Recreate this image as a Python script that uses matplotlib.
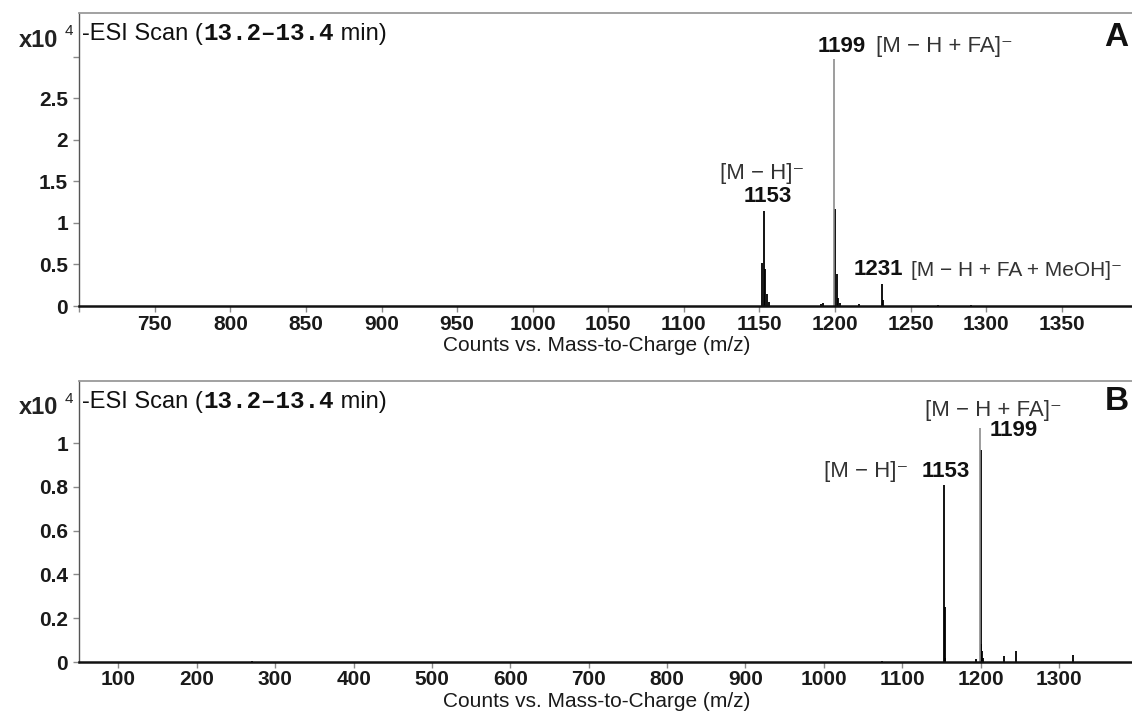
import matplotlib
matplotlib.use("Agg")
import matplotlib.pyplot as plt

plt.rcParams['font.family'] = ['Liberation Sans', 'DejaVu Sans']

# ---- Panel A: narrow scan window, intensities in units of 1e4 counts ----
mz_a = [1152, 1153, 1154, 1155, 1156, 1191, 1192, 1200, 1201, 1202, 1203,
        1216, 1231, 1232, 1268, 1290]
counts_a = [0.52, 1.14, 0.45, 0.15, 0.05, 0.03, 0.035, 1.17, 0.38, 0.10, 0.04,
            0.025, 0.27, 0.07, 0.01, 0.008]
base_mz_a = [1199]
base_counts_a = [2.97]
xticks_a = [700, 750, 800, 850, 900, 950, 1000, 1050, 1100, 1150, 1200, 1250, 1300, 1350]
xlabels_a = ['', '750', '800', '850', '900', '950', '1000', '1050', '1100', '1150',
             '1200', '1250', '1300', '1350']
yticks_a = [0, 0.5, 1, 1.5, 2, 2.5, 3]
ylabels_a = ['0', '0.5', '1', '1.5', '2', '2.5', '']

# ---- Panel B: full scan window ----
mz_b = [270, 1074, 1153, 1154, 1155, 1194, 1200, 1201, 1202, 1203, 1230, 1245, 1318]
counts_b = [0.005, 0.006, 0.807, 0.25, 0.02, 0.012, 0.97, 0.08, 0.05, 0.02, 0.026,
            0.048, 0.033]
base_mz_b = [1199]
base_counts_b = [1.07]
xticks_b = [100, 200, 300, 400, 500, 600, 700, 800, 900, 1000, 1100, 1200, 1300]
xlabels_b = [str(v) for v in xticks_b]
yticks_b = [0, 0.2, 0.4, 0.6, 0.8, 1]
ylabels_b = ['0', '0.2', '0.4', '0.6', '0.8', '1']

W, H = 1132, 714
fig = plt.figure(figsize=(W / 100, H / 100), dpi=100)

ax_w = 1058
axA = fig.add_axes([79.3 / W, 1 - 306 / H, ax_w / W, 292.7 / H])
axB = fig.add_axes([79.3 / W, 1 - 662 / H, ax_w / W, 281.3 / H])


def style_axes(ax, xlim, ylim, xt, xl, yt, yl, label_y, xpad):
    ax.set_xlim(*xlim)
    ax.set_ylim(*ylim)
    ax.set_xticks(xt)
    ax.set_xticklabels(xl)
    ax.set_yticks(yt)
    ax.set_yticklabels(yl)
    ax.spines['right'].set_visible(False)
    ax.spines['top'].set_color('#9a9a9a')
    ax.spines['top'].set_linewidth(1.3)
    ax.spines['left'].set_color('#555555')
    ax.spines['left'].set_linewidth(1.0)
    ax.spines['bottom'].set_color('#111111')
    ax.spines['bottom'].set_linewidth(1.8)
    ax.tick_params(axis='both', direction='out', length=4, width=1,
                   color='#8a8a8a', labelsize=15)
    ax.tick_params(axis='x', pad=xpad)
    ax.tick_params(axis='y', pad=4)
    for lbl in ax.get_xticklabels() + ax.get_yticklabels():
        lbl.set_fontweight('bold')
        lbl.set_color('#1a1a1a')
    ax.set_xlabel('Counts vs. Mass-to-Charge (m/z)', fontsize=15, color='#1a1a1a')
    ax.xaxis.label.set_va('center')
    ax.xaxis.set_label_coords(0.489, label_y)
    # exponent marker
    ax.annotate('x10', xy=(0, 1), xycoords='axes fraction', xytext=(-21, -27),
                textcoords='offset pixels', ha='right', va='center',
                fontsize=17, fontweight='bold', color='#222222')
    ax.annotate('4', xy=(0, 1), xycoords='axes fraction', xytext=(-15, -18),
                textcoords='offset pixels', ha='left', va='center',
                fontsize=11, color='#222222')
    # scan description
    t1 = ax.annotate('-ESI Scan (', xy=(0, 1), xycoords='axes fraction',
                     xytext=(3, -21), textcoords='offset pixels', ha='left',
                     va='center', fontsize=17, color='#111111')
    t2 = ax.annotate('13.2\u201313.4', xy=(1, 0), xycoords=t1, xytext=(0, 0),
                     textcoords='offset pixels', ha='left', va='bottom',
                     fontsize=17.5, fontweight='bold', family='Liberation Mono',
                     color='#111111')
    ax.annotate(' min)', xy=(1, 0), xycoords=t2, xytext=(0, 0),
                textcoords='offset pixels', ha='left', va='bottom',
                fontsize=17, color='#111111')


style_axes(axA, (700, 1400), (0, 3.52), xticks_a, xlabels_a, yticks_a, ylabels_a,
           -0.134, 2.5)
style_axes(axB, (50, 1400), (0, 1.285), xticks_b, xlabels_b, yticks_b, ylabels_b,
           -0.142, 1.5)

# spectra
axA.vlines(mz_a, 0, counts_a, colors='#000000', linewidth=1.3)
axA.vlines(base_mz_a, 0, base_counts_a, colors='#8c8c8c', linewidth=1.2)
axB.vlines(mz_b, 0, counts_b, colors='#000000', linewidth=1.3)
axB.vlines(base_mz_b, 0, base_counts_b, colors='#8c8c8c', linewidth=1.2)

bold = dict(fontsize=16, fontweight='bold', color='#111111')
ion = dict(fontsize=16, color='#333333')


def peak_label(ax, mz, y, text, dx, dy, ha='center', **kw):
    return ax.annotate(text, xy=(mz, y), xytext=(dx, dy), textcoords='offset pixels',
                       ha=ha, va='center', **kw)


def chain(prev, text, gap, side='right', **kw):
    if side == 'right':
        return prev.axes.annotate(text, xy=(1, 0), xycoords=prev, xytext=(gap, 0),
                                  textcoords='offset pixels', ha='left',
                                  va='bottom', **kw)
    return prev.axes.annotate(text, xy=(0, 0), xycoords=prev, xytext=(-gap, 0),
                              textcoords='offset pixels', ha='right',
                              va='bottom', **kw)


# panel A labels
lbl = peak_label(axA, base_mz_a[0], base_counts_a[0], '1199', 8, 13, **bold)
chain(lbl, '[M \u2212 H + FA]\u207b', 10, **ion)
peak_label(axA, 1153, 1.14, '1153', 4, 15, **bold)
peak_label(axA, 1153, 1.14, '[M \u2212 H]\u207b', -2, 38, **ion)
lbl = peak_label(axA, 1231, 0.27, '1231', -3, 14, **bold)
chain(lbl, '[M \u2212 H + FA + MeOH]\u207b', 7, fontsize=15, color='#333333')

# panel B labels
lbl = peak_label(axB, 1153, 0.807, '1153', 2, 14, **bold)
chain(lbl, '[M \u2212 H]\u207b', 13, side='left', **ion)
peak_label(axB, base_mz_b[0], base_counts_b[0], '1199', 10, -3, ha='left', **bold)
peak_label(axB, base_mz_b[0], base_counts_b[0], '[M \u2212 H + FA]\u207b', 14, 17, **ion)

# panel letters
fig.text(1116 / W, 1 - 38 / H, 'A', ha='center', va='center', fontsize=24,
         fontweight='bold', color='#111111')
fig.text(1117 / W, 1 - 401 / H, 'B', ha='center', va='center', fontsize=24,
         fontweight='bold', color='#111111')

fig.savefig('out.png', dpi=100)
